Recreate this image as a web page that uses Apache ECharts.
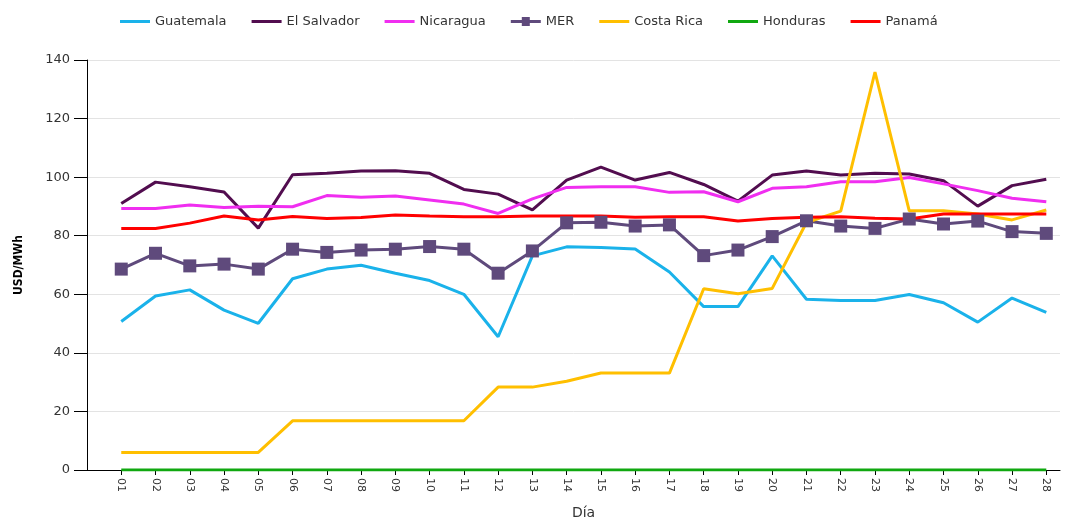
<!DOCTYPE html>
<html>
<head>
<meta charset="utf-8">
<script src="https://cdn.jsdelivr.net/npm/echarts@6/dist/echarts.min.js"></script>
<style>
  html, body { margin: 0; padding: 0; background: #fff; }
  #chart { width: 1068px; height: 518px; }
</style>
</head>
<body>
<div id="chart"></div>
<script>
const days = [1, 2, 3, 4, 5, 6, 7, 8, 9, 10, 11, 12, 13, 14, 15, 16, 17, 18, 19, 20, 21, 22, 23, 24, 25, 26, 27, 28];

const guatemala = [50.7, 59.4, 61.5, 54.6, 50.1, 65.3, 68.6, 69.9, 67.2, 64.7, 60.0, 45.5, 73.1, 76.2,
  76.0, 75.5, 67.6, 55.8, 55.8, 73.1, 58.3, 57.9, 57.9, 59.9, 57.1, 50.5, 58.7, 53.8];
const elSalvador = [91.0, 98.3, 96.7, 94.9, 82.6, 100.8, 101.3, 102.1, 102.2, 101.3, 95.8, 94.2, 88.8, 99.0,
  103.4, 99.0, 101.6, 97.5, 91.8, 100.7, 102.1, 100.7, 101.3, 101.1, 98.8, 90.1, 97.1, 99.3];
const nicaragua = [89.3, 89.3, 90.5, 89.6, 90.1, 89.9, 93.7, 93.1, 93.6, 92.2, 90.8, 87.6, 92.6, 96.5,
  96.7, 96.7, 94.8, 95.0, 91.6, 96.2, 96.7, 98.4, 98.4, 99.9, 97.7, 95.4, 92.8, 91.6];
const mer = [68.6, 74.0, 69.7, 70.3, 68.6, 75.4, 74.3, 75.1, 75.4, 76.3, 75.4, 67.2, 74.8, 84.4,
  84.6, 83.3, 83.7, 73.2, 75.1, 79.7, 85.1, 83.3, 82.5, 85.7, 84.0, 85.0, 81.4, 80.8];
const costaRica = [6.0, 6.0, 6.0, 6.0, 6.0, 16.8, 16.8, 16.8, 16.8, 16.8, 16.8, 28.3, 28.3, 30.3,
  33.1, 33.1, 33.1, 61.9, 60.2, 62.0, 84.5, 88.4, 135.9, 88.5, 88.5, 87.4, 85.4, 88.8];
const honduras = [0, 0, 0, 0, 0, 0, 0, 0, 0, 0, 0, 0, 0, 0,
  0, 0, 0, 0, 0, 0, 0, 0, 0, 0, 0, 0, 0, 0];
const panama = [82.5, 82.5, 84.3, 86.7, 85.4, 86.6, 85.9, 86.2, 87.1, 86.7, 86.5, 86.5, 86.7, 86.7,
  86.7, 86.3, 86.5, 86.5, 85.0, 85.9, 86.3, 86.5, 86.0, 85.7, 87.4, 87.4, 87.4, 87.4];

const yTicks = [0, 20, 40, 60, 80, 100, 120, 140];

const seriesDefs = [
  { name: 'Guatemala', color: '#1ab2ea', values: guatemala },
  { name: 'El Salvador', color: '#520d4f', values: elSalvador },
  { name: 'Nicaragua', color: '#f02ef0', values: nicaragua },
  { name: 'MER', color: '#5f4a7c', values: mer, marker: true },
  { name: 'Costa Rica', color: '#ffbf00', values: costaRica },
  { name: 'Honduras', color: '#10a810', values: honduras },
  { name: 'Panamá', color: '#ff0000', values: panama }
];

const font = 'DejaVu Sans';
const pad = d => (d < 10 ? '0' : '') + d;

// legend icons: plain line, or line with a square for MER
const lineIcon = 'path://M0,5L30,5L30,8L0,8Z';
const merIcon = 'path://M0,5L30,5L30,8L0,8Z M11,2L19,2L19,11L11,11Z';

const chart = echarts.init(document.getElementById('chart'));

const option = {
  animation: false,
  textStyle: { fontFamily: font },
  legend: {
    top: 10,
    left: 115,
    itemWidth: 30,
    itemHeight: 12,
    itemGap: 25,
    textStyle: { fontFamily: font, fontSize: 13, color: '#333' },
    data: seriesDefs.map(s => ({ name: s.name, icon: s.marker ? merIcon : lineIcon }))
  },
  grid: { left: 87, right: 8, top: 60, bottom: 48, outerBoundsMode: 'none' },
  xAxis: {
    type: 'value',
    min: 0,
    max: 28.4,
    interval: 1,
    name: 'Día',
    nameLocation: 'middle',
    nameGap: 36,
    nameTextStyle: { fontFamily: font, fontSize: 14, color: '#333', padding: [0, 0, 0, 20] },
    axisLine: { lineStyle: { color: '#000', width: 1 } },
    axisTick: { length: 5, lineStyle: { color: '#000' }, customValues: days },
    axisLabel: {
      customValues: days,
      rotate: -90,
      fontSize: 11,
      color: '#333',
      margin: 8,
      formatter: v => pad(v)
    },
    splitLine: { show: false }
  },
  yAxis: {
    type: 'value',
    min: yTicks[0],
    max: yTicks[yTicks.length - 1],
    interval: 20,
    name: 'USD/MWh',
    nameLocation: 'middle',
    nameRotate: 90,
    nameGap: 62,
    nameTextStyle: {
      fontFamily: "'DejaVu Sans Condensed', 'Liberation Sans', sans-serif",
      fontSize: 12, fontWeight: 'bold', color: '#000'
    },
    axisLine: { show: true, lineStyle: { color: '#000', width: 1 } },
    axisTick: { show: true, length: 13, lineStyle: { color: '#000' } },
    axisLabel: { fontSize: 13, color: '#333', margin: 17 },
    splitLine: { lineStyle: { color: '#e3e3e3', width: 1 } }
  },
  series: seriesDefs.map(s => ({
    name: s.name,
    type: 'line',
    data: days.map((d, i) => [d, s.values[i]]),
    color: s.color,
    lineStyle: { width: 3, color: s.color },
    showSymbol: !!s.marker,
    symbol: s.marker ? 'rect' : 'none',
    symbolSize: 13,
    itemStyle: { color: s.color },
    z: s.name === 'Honduras' ? 1 : 2
  }))
};

chart.setOption(option);
</script>
</body>
</html>
